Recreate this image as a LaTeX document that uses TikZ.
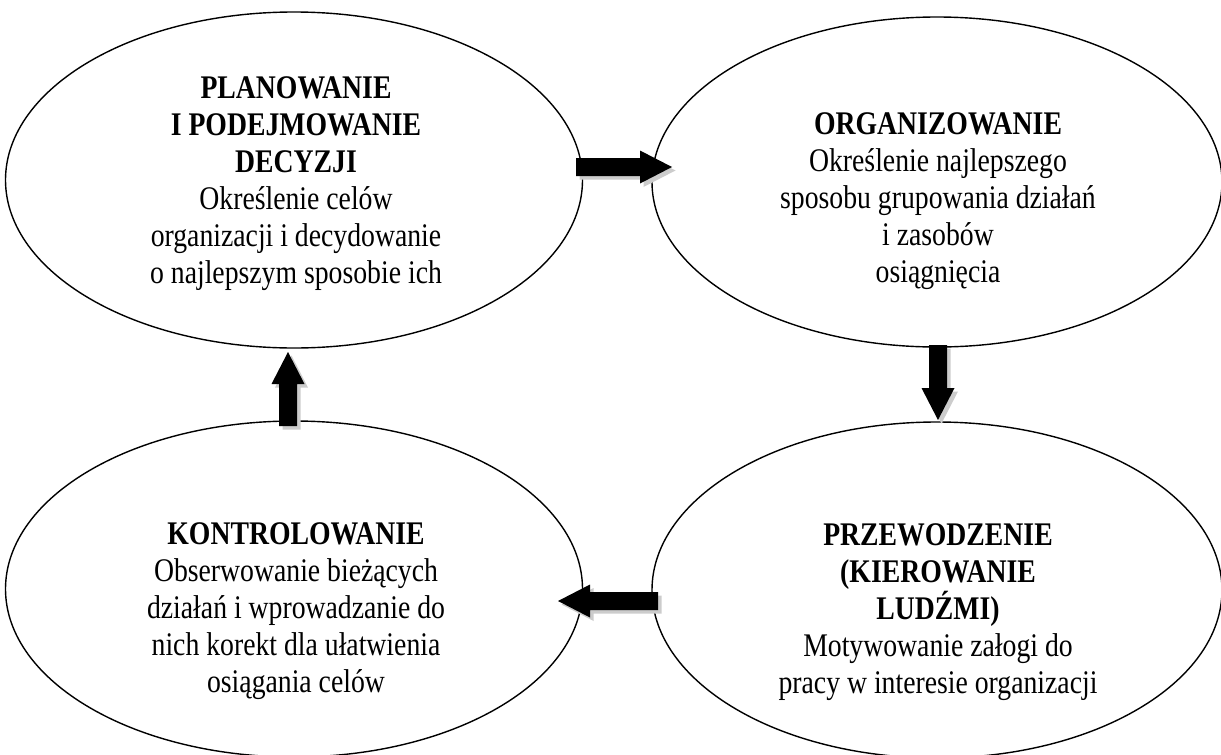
\documentclass[tikz,border=0pt]{standalone}
\usepackage{fontspec}
\setmainfont{Liberation Serif}[FakeStretch=0.84]
\usetikzlibrary{shapes.geometric,calc}
\tikzset{
  stage/.style={draw=black, line width=1.4pt, ellipse, inner sep=0pt},
  stagetext/.style={align=center, font=\fontsize{33}{37}\selectfont, inner sep=0pt},
  % block arrow with a grey offset shadow, drawn from a start point to its tip
  blockarrow/.style={fill=black,
    preaction={fill=gray!40, transform canvas={shift={(3.5pt,-3.5pt)}}},
    to path={
      -- ($(\tikztostart)!9pt!90:(\tikztotarget)$)
      -- ($($(\tikztotarget)!32pt!(\tikztostart)$)!9pt!-90:(\tikztostart)$)
      -- ($($(\tikztotarget)!32pt!(\tikztostart)$)!16.5pt!-90:(\tikztostart)$)
      -- (\tikztotarget)
      -- ($($(\tikztotarget)!32pt!(\tikztostart)$)!16.5pt!90:(\tikztostart)$)
      -- ($($(\tikztotarget)!32pt!(\tikztostart)$)!9pt!90:(\tikztostart)$)
      -- ($(\tikztostart)!9pt!-90:(\tikztotarget)$)
      -- (\tikztostart)}}
}
\begin{document}
\begin{tikzpicture}[x=1pt,y=-1pt]
\useasboundingbox (0,0) rectangle (1221,755);

% the four management functions
\node[stage, minimum width=577, minimum height=336] (plan) at (294,180) {};
\node[stage, minimum width=570, minimum height=330] (org)  at (937,182) {};
\node[stage, minimum width=577, minimum height=336] (ctrl) at (294,589) {};
\node[stage, minimum width=570, minimum height=336] (lead) at (937,590) {};

\node[stagetext] (plantxt) at (296,183.5) {\textbf{PLANOWANIE}\\\textbf{I PODEJMOWANIE}\\\textbf{DECYZJI}\\Określenie celów\\organizacji i decydowanie\\o najlepszym sposobie ich};
\node[stagetext] (orgtxt) at (938,201) {\textbf{ORGANIZOWANIE}\\Określenie najlepszego\\sposobu grupowania działań\\i zasobów\\osiągnięcia};
\node[stagetext] (ctrltxt) at (296,611) {\textbf{KONTROLOWANIE}\\Obserwowanie bieżących\\działań i wprowadzanie do\\nich korekt dla ułatwienia\\osiągania celów};
\node[stagetext] (leadtxt) at (938,612) {\textbf{PRZEWODZENIE}\\\textbf{(KIEROWANIE}\\\textbf{LUDŹMI)}\\Motywowanie załogi do\\pracy w interesie organizacji};

% arrow ends
\coordinate (a1s) at (576,167);
\coordinate (a1e) at (672,167);
\coordinate (a2s) at (938,345);
\coordinate (a2e) at (938,420);
\coordinate (a3s) at (658,601);
\coordinate (a3e) at (558,601);
\coordinate (a4s) at (288,426);
\coordinate (a4e) at (288,352);

\path[blockarrow] (a1s) to (a1e);
\path[blockarrow] (a2s) to (a2e);
\path[blockarrow] (a3s) to (a3e);
\path[blockarrow] (a4s) to (a4e);
\end{tikzpicture}
\end{document}
